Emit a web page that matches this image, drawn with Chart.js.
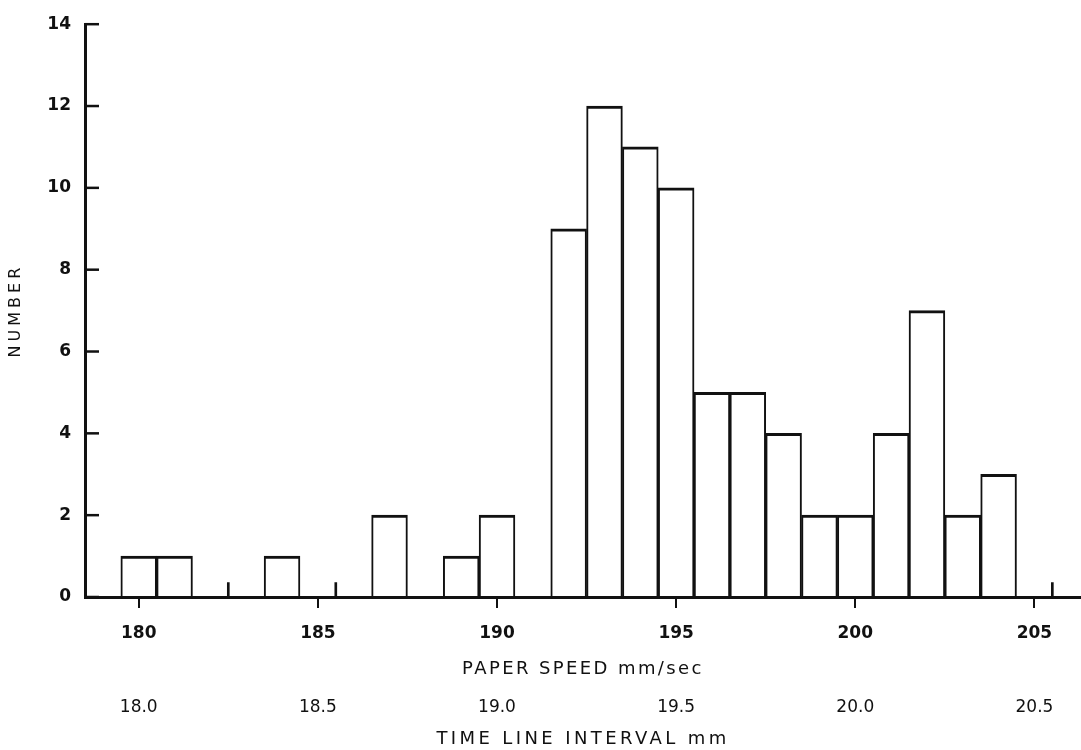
<!DOCTYPE html>
<html>
<head>
<meta charset="utf-8">
<script src="https://cdn.jsdelivr.net/npm/chart.js@4/dist/chart.umd.min.js"></script>
<style>
  html, body { margin: 0; padding: 0; background: #fff; }
  #wrap { width: 1081px; height: 750px; }
</style>
</head>
<body>
<div id="wrap"><canvas id="histChart" width="1081" height="750"></canvas></div>
<script>
// Histogram data (paper speed, mm/sec -> number of measurements)
const speeds = [180, 181, 184, 187, 189, 190, 192, 193, 194, 195, 196, 197, 198, 199, 200, 201, 202, 203, 204];
const counts = [1, 1, 1, 2, 1, 2, 9, 12, 11, 10, 5, 5, 4, 2, 2, 4, 7, 2, 3];

// little upright marks standing on the axis
const markSpeeds = [182.5, 185.5, 205.5];
const markHeights = [0.35, 0.35, 0.35];

// axis ticks
const speedTicks = [180, 185, 190, 195, 200, 205];
const intervalLabels = ['18.0', '18.5', '19.0', '19.5', '20.0', '20.5'];
const numberTicks = [0, 2, 4, 6, 8, 10, 12, 14];

const ink = '#111';
const fontFamily = '"DejaVu Sans", "Liberation Sans", sans-serif';

// letter spaced axis titles like the old printed figure
const titleSpacing = { x: 2.4, x2: 3.4, y: 4 };
const baseDrawTitle = Chart.Scale.prototype.drawTitle;
Chart.Scale.prototype.drawTitle = function () {
    const ctx = this.ctx;
    ctx.save();
    ctx.letterSpacing = (titleSpacing[this.id] || 0) + 'px';
    baseDrawTitle.call(this);
    ctx.restore();
};

// y axis ticks point into the plot
const innerTicks = {
    id: 'innerTicks',
    afterDraw(chart) {
        const y = chart.scales.y;
        const ctx = chart.ctx;
        ctx.save();
        ctx.strokeStyle = ink;
        ctx.lineWidth = 2.5;
        y.ticks.forEach(t => {
            const py = y.getPixelForValue(t.value);
            ctx.beginPath();
            ctx.moveTo(y.right, py);
            ctx.lineTo(y.right + 14, py);
            ctx.stroke();
        });
        ctx.restore();
    }
};

const setTicks = values => scale => {
    scale.ticks = values.map(v => ({ value: v }));
};

new Chart(document.getElementById('histChart'), {
    type: 'bar',
    data: {
        datasets: [{
            data: speeds.map((s, i) => ({ x: s, y: counts[i] })),
            backgroundColor: '#fff',
            borderColor: ink,
            borderWidth: { top: 3, left: 2, right: 2, bottom: 0 },
            borderSkipped: false,
            barPercentage: 1,
            categoryPercentage: 1,
            grouped: false
        }, {
            data: markSpeeds.map((s, i) => ({ x: s, y: markHeights[i] })),
            backgroundColor: ink,
            borderWidth: 0,
            barThickness: 2,
            grouped: false
        }]
    },
    options: {
        responsive: false,
        animation: false,
        layout: { padding: { top: 19, left: 0, right: 0, bottom: 0 } },
        plugins: {
            legend: { display: false },
            tooltip: { enabled: false }
        },
        scales: {
            x: {
                type: 'linear',
                position: 'bottom',
                weight: 0,
                min: 178.5,
                max: 206.3,
                offset: false,
                afterBuildTicks: setTicks(speedTicks),
                afterFit: s => { s.height = 89; },
                grid: {
                    offset: false,
                    drawOnChartArea: false,
                    drawTicks: true,
                    tickLength: 11,
                    lineWidth: 2,
                    color: ink
                },
                border: { display: true, color: ink, width: 3, z: 1 },
                ticks: {
                    padding: 15,
                    color: ink,
                    maxRotation: 0,
                    font: { family: fontFamily, size: 17, weight: 'bold' },
                    callback: v => String(v)
                },
                title: {
                    display: true,
                    text: 'PAPER SPEED mm/sec',
                    color: ink,
                    padding: { top: 0, bottom: 6 },
                    font: { family: fontFamily, size: 18 }
                }
            },
            x2: {
                type: 'linear',
                position: 'bottom',
                weight: 1,
                min: 178.5,
                max: 206.3,
                offset: false,
                afterBuildTicks: setTicks(speedTicks),
                afterFit: s => { s.height = 64; },
                grid: { display: false, drawTicks: false },
                border: { display: false },
                ticks: {
                    padding: 11,
                    color: ink,
                    maxRotation: 0,
                    font: { family: fontFamily, size: 17 },
                    callback: (v, i) => intervalLabels[i]
                },
                title: {
                    display: true,
                    text: 'TIME LINE INTERVAL mm',
                    color: ink,
                    padding: { top: 0, bottom: 0 },
                    font: { family: fontFamily, size: 18 }
                }
            },
            y: {
                type: 'linear',
                min: 0,
                max: 14,
                afterBuildTicks: setTicks(numberTicks),
                afterFit: s => { s.width = 85; },
                grid: { display: false, drawTicks: false },
                border: { display: true, color: ink, width: 3, z: 1 },
                ticks: {
                    padding: 14,
                    color: ink,
                    font: { family: fontFamily, size: 17, weight: 'bold' }
                },
                title: {
                    display: true,
                    text: 'NUMBER',
                    color: ink,
                    padding: 6,
                    font: { family: fontFamily, size: 16 }
                }
            }
        }
    },
    plugins: [innerTicks]
});
</script>
</body>
</html>
